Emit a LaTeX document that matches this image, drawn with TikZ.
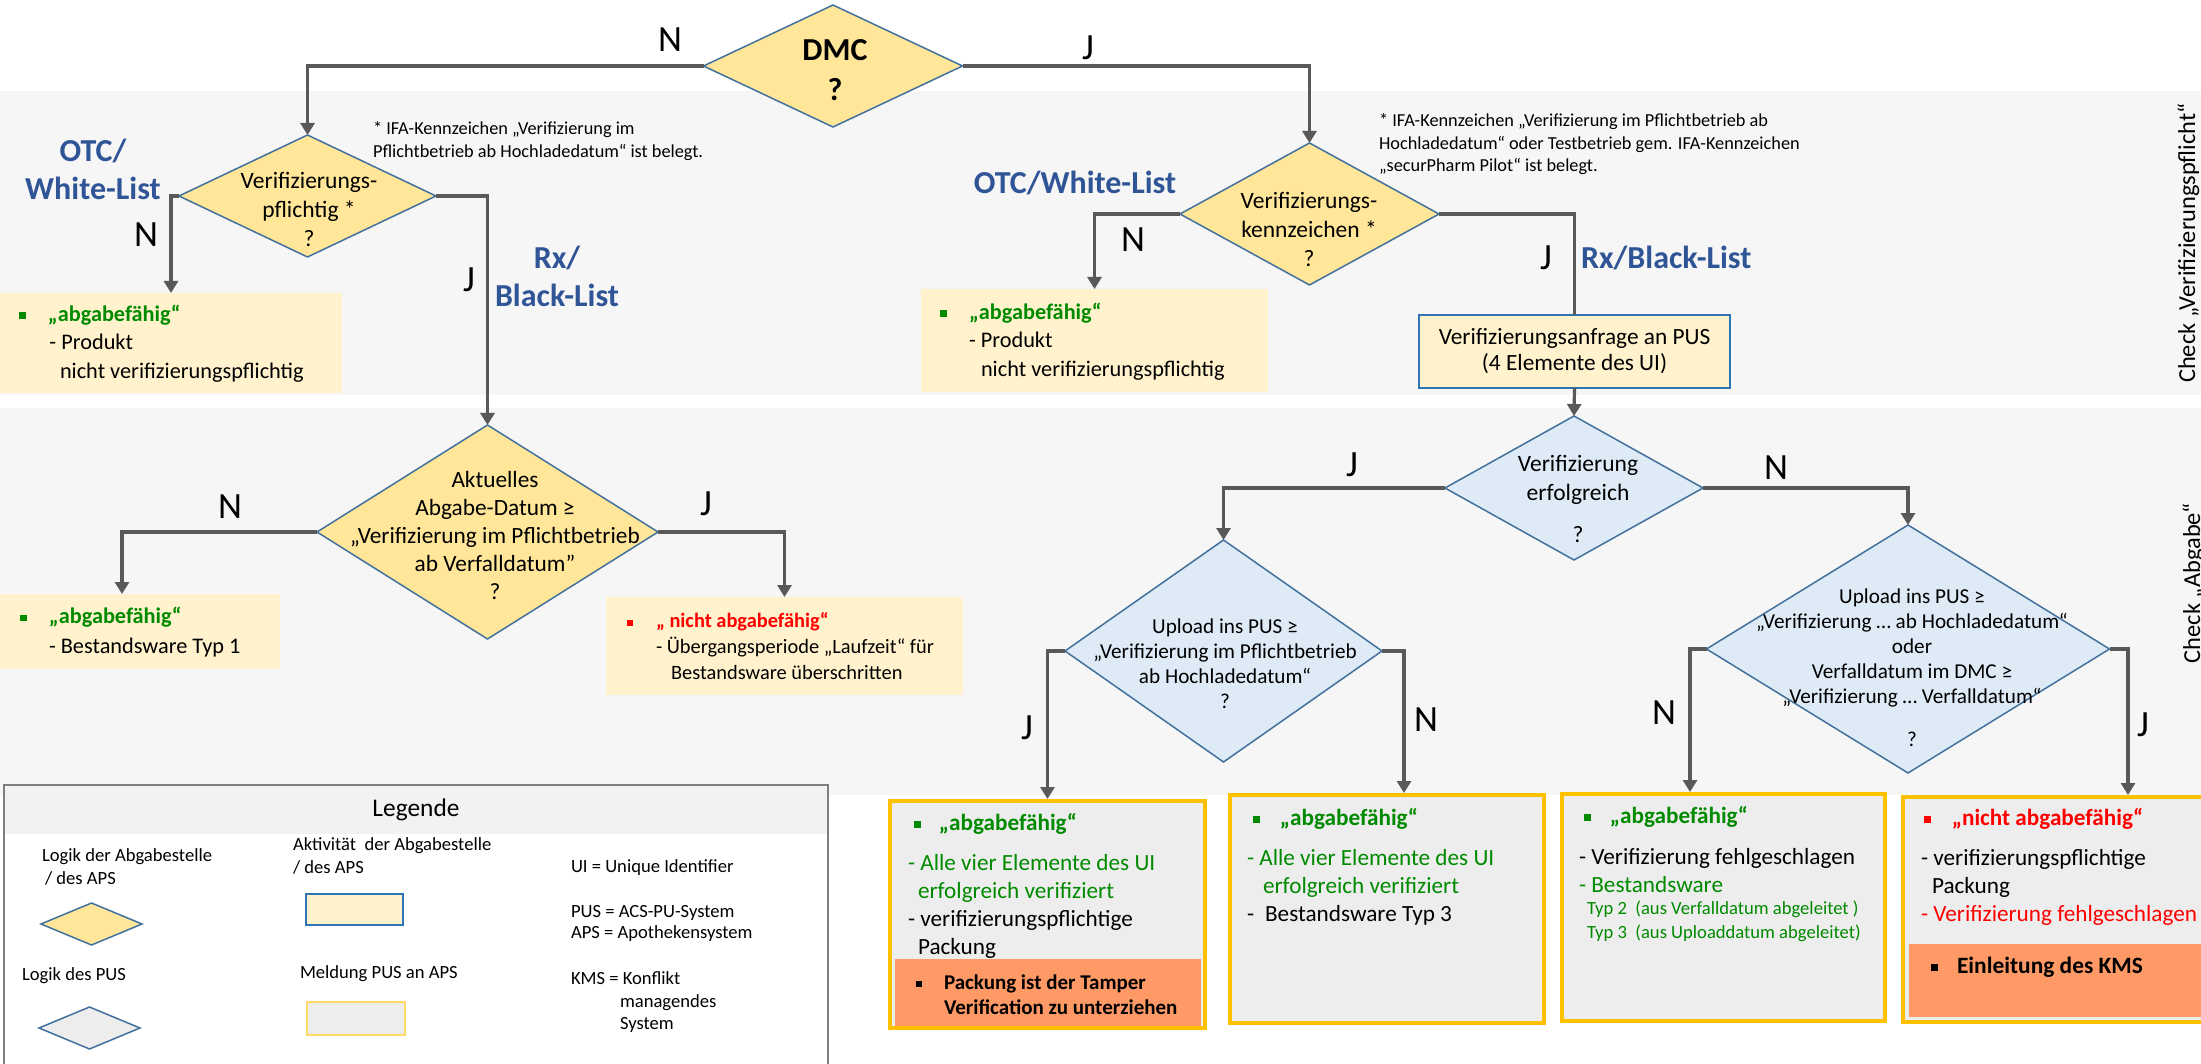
\documentclass[tikz,border=0pt]{standalone}
\usepackage{fontspec}
\setmainfont{Carlito}
\usetikzlibrary{shapes.geometric,arrows.meta,positioning,calc}

\definecolor{bandgray}{HTML}{F6F6F6}
\definecolor{diayellow}{HTML}{FFE699}
\definecolor{diablue}{HTML}{DEEBF7}
\definecolor{edgeblue}{HTML}{41719C}
\definecolor{actblue}{HTML}{2E75B6}
\definecolor{boxyellow}{HTML}{FFF2CC}
\definecolor{msggray}{HTML}{EDEDED}
\definecolor{msgborder}{HTML}{FFC000}
\definecolor{legmsgborder}{HTML}{FFD966}
\definecolor{alertorange}{HTML}{FF9966}
\definecolor{linegray}{HTML}{595959}
\definecolor{listblue}{HTML}{2F5597}
\definecolor{okgreen}{HTML}{008A00}
\definecolor{nogored}{HTML}{FF0000}
\definecolor{leggray}{HTML}{7F7F7F}
\definecolor{headgray}{HTML}{F2F2F2}

\newcommand{\fsz}[2]{\fontsize{#1}{#2}\selectfont}
\newcommand{\sqbul}[1]{\textcolor{#1}{\rule[0.1em]{0.3em}{0.3em}}}

\begin{document}
\begin{tikzpicture}[
    x=1pt, y=-1pt,
    every node/.style={inner sep=0pt, outer sep=0pt},
    dia/.style={diamond, draw=edgeblue, line width=1.5pt, fill=diayellow},
    puslogic/.style={dia, fill=diablue},
    diatext/.style={align=center, font=\fsz{23.5}{29}},
    pustext/.style={align=center, font=\fsz{21.2}{25}},
    infobox/.style={rectangle, fill=boxyellow},
    actbox/.style={rectangle, draw=actblue, line width=2.2pt, fill=boxyellow},
    msgbox/.style={rectangle, draw=msgborder, line width=3.5pt, fill=msggray},
    alertbox/.style={rectangle, fill=alertorange},
    boxtext/.style={align=left, anchor=west},
    yn/.style={font=\fsz{37}{40}},
    listlabel/.style={align=center, font=\fsz{32}{38}\bfseries, text=listblue},
    note/.style={align=left, anchor=west, font=\fsz{18.3}{23}},
    legtext/.style={align=left, anchor=west, font=\fsz{18.6}{23}},
    arrow/.style={-{Triangle[length=12pt,width=14pt]}, line width=3.2pt, draw=linegray},
    connector/.style={line width=3.2pt, draw=linegray}
]

% Hintergrund
\useasboundingbox (0,0) rectangle (2201,1064);
\fill[bandgray] (0,91) rectangle (2201,395);
\fill[bandgray] (0,408) rectangle (2201,795);
\node[rotate=90, anchor=base, font=\fsz{24.4}{28}] (chkpfl) at (2195,243) {Check „Verifizierungspflicht“};
\node[rotate=90, anchor=base, font=\fsz{24.4}{28}] (chkabg) at (2200,583) {Check „Abgabe“};

% DMC
\node[dia, minimum width=259, minimum height=122] (dmc) at (833,66) {};
\node[align=center, font=\fsz{32}{40}\bfseries] (dmct) at (835,70) {DMC\\?};

% Verifizierungspflicht (links)
\node[dia, minimum width=257, minimum height=122] (vpfl) at (307.5,196) {};
\node[diatext] (vpflt) at (309,209) {Verifizierungs-\\pflichtig *\\?};
\node[note] (fnpfl) at (373,141.5) {* IFA-Kennzeichen „Verifizierung im\\Pflichtbetrieb ab Hochladedatum“ ist belegt.};
\node[listlabel] (otcl) at (93,169) {OTC/\\White-List};
\node[listlabel] (rxl) at (557,276) {Rx/\\Black-List};
\node[infobox, minimum width=342, minimum height=100] (okotc) at (171,343) {};
\node[boxtext, font=\fsz{22.3}{28.5}] (okotct) at (19,343.5) {\sqbul{okgreen}\hspace*{22.3pt}\textcolor{okgreen}{\bfseries „abgabefähig“}\\
  \hspace*{30.5pt}- Produkt\\
  \hspace*{41pt}nicht verifizierungspflichtig};

% Abgabe-Datum
\node[dia, minimum width=341, minimum height=214] (vdat) at (487.5,532) {};
\node[diatext, font=\fsz{23.3}{28}] (vdatt) at (495,535) {Aktuelles\\Abgabe-Datum ≥\\„Verifizierung im Pflichtbetrieb\\ab Verfalldatum”\\?};
\node[infobox, minimum width=280, minimum height=75] (okalt) at (140,631.5) {};
\node[boxtext, font=\fsz{22.3}{30}] (okaltt) at (20,632) {\sqbul{okgreen}\hspace*{22.3pt}\textcolor{okgreen}{\bfseries „abgabefähig“}\\
  \hspace*{29pt}- Bestandsware Typ 1};
\node[infobox, minimum width=357, minimum height=98] (noalt) at (784.5,646) {};
\node[boxtext, font=\fsz{20.4}{26}] (noaltt) at (627,646.5) {\sqbul{nogored}\hspace*{22.9pt}\textcolor{nogored}{\bfseries „ nicht abgabefähig“}\\
  \hspace*{29pt}- Übergangsperiode „Laufzeit“ für\\
  \hspace*{44pt}Bestandsware überschritten};

% Verifizierungskennzeichen (rechts)
\node[dia, minimum width=259, minimum height=142] (vkz) at (1309.5,214) {};
\node[diatext] (vkzt) at (1309,229) {Verifizierungs-\\kennzeichen *\\?};
\node[note, font=\fsz{18.3}{22.5}] (fnkz) at (1379,144.5) {* IFA-Kennzeichen „Verifizierung im Pflichtbetrieb ab\\Hochladedatum“ oder Testbetrieb gem. IFA-Kennzeichen\\„securPharm Pilot“ ist belegt.};
\node[listlabel] (otcr) at (1075,183) {OTC/White-List};
\node[listlabel, anchor=west] (rxr) at (1581,258) {Rx/Black-List};
\node[infobox, minimum width=347, minimum height=103] (okotc2) at (1094.5,340.5) {};
\node[boxtext, font=\fsz{22.3}{28.5}] (okotc2t) at (940,341.5) {\sqbul{okgreen}\hspace*{22.3pt}\textcolor{okgreen}{\bfseries „abgabefähig“}\\
  \hspace*{29pt}- Produkt\\
  \hspace*{41pt}nicht verifizierungspflichtig};
\node[actbox, minimum width=311, minimum height=73, align=center, font=\fsz{23.3}{26}] (pus) at (1574.5,351.5) {Verifizierungsanfrage an PUS\\(4 Elemente des UI)};

% Logik des PUS
\node[puslogic, minimum width=258, minimum height=144] (verf) at (1574,488) {};
\node[diatext] (verft) at (1578,499) {Verifizierung\\erfolgreich\\[13pt]?};
\node[puslogic, minimum width=317, minimum height=222] (vupl) at (1223.5,651) {};
\node[pustext] (vuplt) at (1225,664) {Upload ins PUS ≥\\„Verifizierung im Pflichtbetrieb\\ab Hochladedatum“\\?};
\node[puslogic, minimum width=403, minimum height=248] (vupl2) at (1908,649) {};
\node[pustext] (vupl2t) at (1912,668) {Upload ins PUS ≥\\„Verifizierung … ab Hochladedatum“\\oder\\Verfalldatum im DMC ≥\\„Verifizierung … Verfalldatum“\\[18pt]?};

% Meldungen PUS an APS
\node[msgbox, minimum width=315, minimum height=227] (msg1) at (1047.5,914.5) {};
\node[alertbox, minimum width=306, minimum height=67] (tamper) at (1048,992.5) {};
\node[boxtext, font=\fsz{23.2}{28}] (msg1t) at (908,885.5) {\hspace*{6pt}\sqbul{okgreen}\hspace*{18pt}\textcolor{okgreen}{\bfseries „abgabefähig“}\\[12pt]
  \textcolor{okgreen}{- Alle vier Elemente des UI}\\
  \hspace*{10pt}\textcolor{okgreen}{erfolgreich verifiziert}\\
  - verifizierungspflichtige\\
  \hspace*{10pt}Packung};
\node[boxtext, font=\fsz{21}{25}\bfseries] (tampert) at (916,994.5) {\sqbul{black}\hspace*{21.7pt}Packung ist der Tamper\\
  \hspace*{28pt}Verification zu unterziehen};

\node[msgbox, minimum width=314, minimum height=228] (msg2) at (1387,909) {};
\node[boxtext, font=\fsz{23.2}{28}] (msg2t) at (1247,867) {\hspace*{6pt}\sqbul{okgreen}\hspace*{20pt}\textcolor{okgreen}{\bfseries „abgabefähig“}\\[12pt]
  \textcolor{okgreen}{- Alle vier Elemente des UI}\\
  \hspace*{16pt}\textcolor{okgreen}{erfolgreich verifiziert}\\
  -\hspace*{11pt}Bestandsware Typ 3};

\node[msgbox, minimum width=323, minimum height=227] (msg3) at (1723.5,907.5) {};
\node[boxtext, font=\fsz{23.2}{28}] (msg3t) at (1579,849.5) {\hspace*{5pt}\sqbul{okgreen}\hspace*{19pt}\textcolor{okgreen}{\bfseries „abgabefähig“}\\[13pt]
  - Verifizierung fehlgeschlagen\\
  \textcolor{okgreen}{- Bestandsware}};
\node[boxtext, font=\fsz{18.6}{24}] (msg3typ) at (1587,921) {\textcolor{okgreen}{Typ 2\ \ (aus Verfalldatum abgeleitet )}\\
  \textcolor{okgreen}{Typ 3\ \ (aus Uploaddatum abgeleitet)}};

\node[msgbox, minimum width=323, minimum height=225] (msg4) at (2064.5,909.5) {};
\node[alertbox, minimum width=311, minimum height=73] (kms) at (2064.5,980.5) {};
\node[boxtext, font=\fsz{23.2}{28}] (msg4t) at (1921,867) {\hspace*{3pt}\sqbul{nogored}\hspace*{21pt}\textcolor{nogored}{\bfseries „nicht abgabefähig“}\\[12pt]
  - verifizierungspflichtige\\
  \hspace*{11pt}Packung\\
  \textcolor{nogored}{- Verifizierung fehlgeschlagen}};
\node[boxtext, font=\fsz{23.4}{28}\bfseries] (kmst) at (1931,967) {\sqbul{black}\hspace*{19pt}Einleitung des KMS};

% Legende
\node[draw=leggray, line width=2pt, fill=white, minimum width=824, minimum height=290, anchor=north west] (legend) at (4,785) {};
\node[fill=headgray, minimum width=822, minimum height=48, anchor=north, yshift=-1pt, font=\fsz{25.4}{30}] (leghead) at (legend.north) {Legende};
\node[legtext] (legl1) at (42,866.5) {Logik der Abgabestelle\\\hspace*{3pt}/ des APS};
\node[dia, minimum width=101, minimum height=42] (legdia1) at (91.5,924) {};
\node[legtext] (legl2) at (22,976) {Logik des PUS};
\node[dia, fill=msggray, minimum width=101, minimum height=42] (legdia2) at (89.5,1028) {};
\node[legtext] (legl3) at (293,856) {Aktivität\ \ der Abgabestelle\\/ des APS};
\node[actbox, line width=1.8pt, minimum width=97, minimum height=31] (legact) at (354.5,909.5) {};
\node[legtext] (legl4) at (300,974) {Meldung PUS an APS};
\node[rectangle, draw=legmsgborder, line width=2.5pt, fill=msggray, minimum width=98, minimum height=33] (legmsg) at (356,1018.5) {};
\node[legtext] (legui) at (571,868) {UI = Unique Identifier};
\node[legtext, font=\fsz{18.6}{21}] (legpus) at (571,923.5) {PUS = ACS-PU-System\\APS = Apothekensystem};
\node[legtext, font=\fsz{18.6}{22.5}] (legkms) at (571,1002.5) {KMS = Konflikt\\\hspace*{49pt}managendes\\\hspace*{49pt}System};

% J/N
\node[yn] (n0) at (670,40) {N};
\node[yn] (j0) at (1088,48) {J};
\node[yn] (n1) at (146,235) {N};
\node[yn] (j1) at (469,280) {J};
\node[yn] (n2) at (1133,240) {N};
\node[yn] (j2) at (1546,258) {J};
\node[yn] (n3) at (230,507) {N};
\node[yn] (j3) at (706,504) {J};
\node[yn] (j4) at (1352,465) {J};
\node[yn] (n4) at (1776,468) {N};
\node[yn] (j5) at (1027,728) {J};
\node[yn] (n5) at (1426,720) {N};
\node[yn] (n6) at (1664,713) {N};
\node[yn] (j6) at (2143,725) {J};

% Verbindungen
\draw[arrow] (dmc.west) -| (vpfl.north);
\draw[arrow] (dmc.east) -| (vkz.north);
\draw[arrow] (vpfl.west) -| (okotc.north);
\draw[arrow] (vpfl.east) -| (vdat.north);
\draw[arrow] (vdat.west) -| ($(okalt.north)+(-18,0)$);
\draw[arrow] (vdat.east) -| (noalt.north);
\draw[arrow] (vkz.west) -| (okotc2.north);
\draw[connector] (vkz.east) -| (pus.north);
\draw[arrow] (pus.south) -- (verf.north);
\draw[arrow] (verf.west) -| (vupl.north);
\draw[arrow] (verf.east) -| (vupl2.north);
\draw[arrow] (vupl.west) -| ([yshift=2pt]msg1.north);
\draw[arrow] (vupl.east) -| ($(msg2.north)+(17,-2)$);
\draw[arrow] (vupl2.west) -| ($(msg3.north)+(-33.5,-2)$);
\draw[arrow] (vupl2.east) -| ($(msg4.north)+(63.5,-2)$);

\end{tikzpicture}
\end{document}
